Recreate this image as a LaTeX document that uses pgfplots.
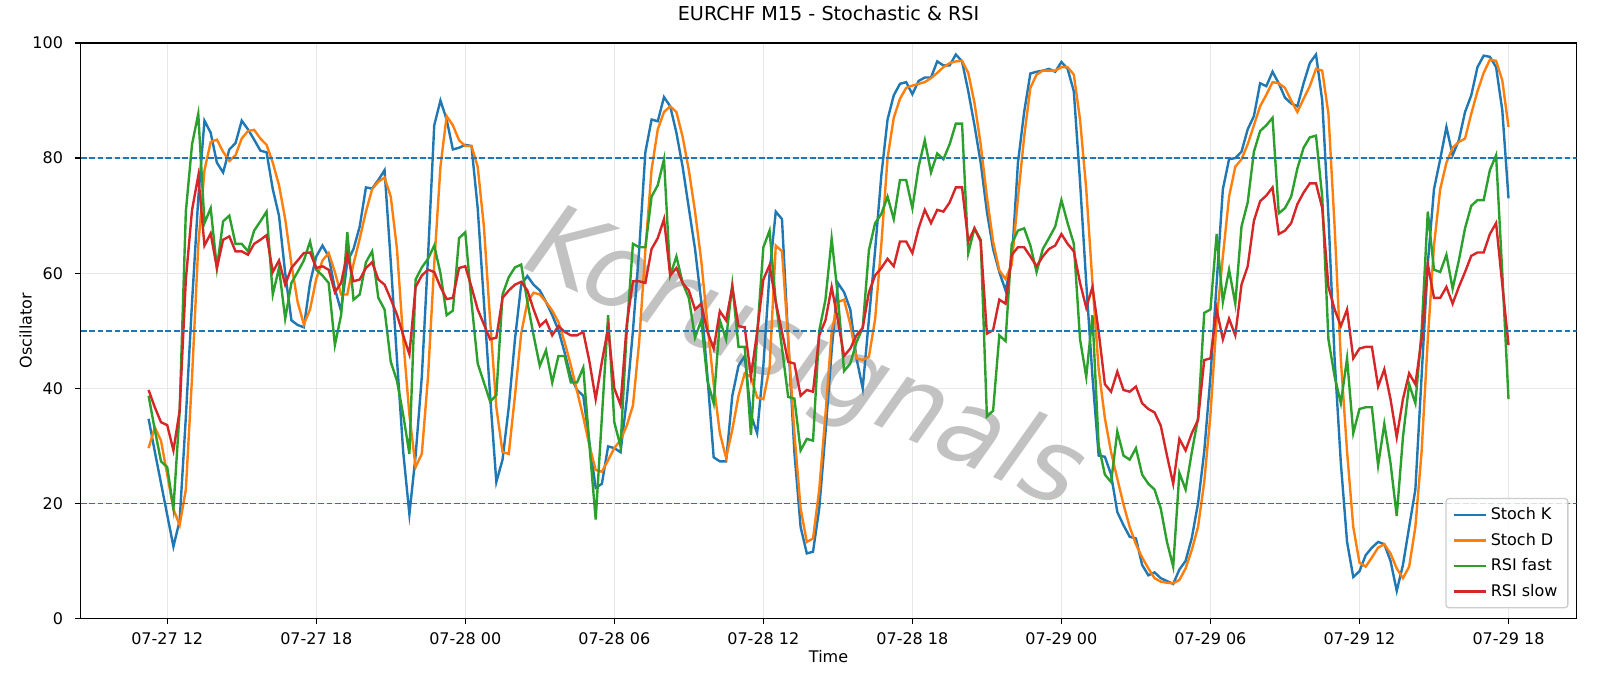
\documentclass[border=0pt]{standalone}
\usepackage{pgfplots}
\pgfplotsset{compat=1.18}
\usepackage{pgfplotstable}
\usepackage{fontspec}
\setmainfont{DejaVu Sans}
\newfontfamily\wmfont[FakeSlant=0.2]{DejaVu Sans}
\definecolor{C0}{HTML}{1F77B4}
\definecolor{C1}{HTML}{FF7F0E}
\definecolor{C2}{HTML}{2CA02C}
\definecolor{C3}{HTML}{D62728}
\definecolor{gridc}{HTML}{E8E8E8}
\definecolor{legc}{HTML}{CCCCCC}

\pgfplotstableread{
h K D F S
11.25 34.7 29.6 38.7 39.7
11.5 29 33.2 32.8 36.7
11.75 23.5 30.9 27.3 34.1
12 18 25 26.3 33.6
12.25 12.5 19 19.1 29.2
12.5 17 16.2 36 36.1
12.75 35 22.4 70.7 58.9
13 55 42 82.4 71
13.25 73 64.8 87.7 76.9
13.5 86.5 77.9 68.7 64.8
13.75 84.4 82.8 71.3 66.9
14 79.2 83.2 60.9 60.9
14.25 77.5 81.1 69 65.8
14.5 81.5 79.5 70 66.4
14.75 82.6 80.5 65.1 63.8
15 86.5 83.4 65.1 63.8
15.25 85 84.7 63.8 63.2
15.5 83.2 84.9 67.4 65.1
15.75 81.3 83.4 69 65.8
16 81 82.3 70.7 66.6
16.25 74.6 79.2 56.3 60.2
16.5 70 75.3 60.9 62.2
16.75 60 69.4 52.1 58
17 51.8 61.6 58.3 60.9
17.25 51 55 60.2 62.2
17.5 50.6 51.1 62.2 63.5
17.75 58.3 53.7 65.5 63.6
18 62.9 59 60.6 60.9
18.25 64.8 62.2 59.6 61.2
18.5 62.9 63.5 58.3 60.6
18.75 57.3 60.2 47.5 56.7
19 53.4 56.3 52.7 58.3
19.25 62 56.3 67.1 63.4
19.5 64.2 61.6 55.4 58.6
19.75 68.1 66 56.3 58.9
20 74.9 70.7 61.9 60.9
20.25 74.7 74.6 63.8 61.9
20.5 76.2 75.9 55.7 58.9
20.75 77.9 76.6 53.7 58
21 62 73.3 44.6 55.5
21.25 45 64.2 41.3 52.8
21.5 29 48.5 35.4 49.2
21.75 18.1 35.4 28.6 45.9
22 28.3 26.3 58.9 57.6
22.25 42 28.6 61 59.6
22.5 62.9 42 62.5 60.6
22.75 85.7 61.6 64.8 60.2
23 90 78.5 60 57.6
23.25 86.7 87.3 52.7 55.5
23.5 81.5 85.7 53.5 55.7
23.75 81.8 83.1 66.1 60.9
24 82.3 82.1 67.1 61.2
24.25 82.1 82.1 55 57.6
24.5 71.3 78.5 44.3 53.7
24.75 55 68.1 41 51.1
25 38.7 51.8 37.7 48.5
25.25 23.7 36.7 38.8 48.8
25.5 27.6 28.9 56.3 55.7
25.75 36.7 28.6 59.3 57
26 48.5 38.7 61 58
26.25 58 49.5 61.5 58.5
26.5 59.5 55 55 57
26.75 58 56.6 49.2 53.7
27 57 56.3 43.9 50.8
27.25 55 55 46.6 51.8
27.5 52.7 53.5 41 49.2
27.75 50.1 51.5 45.6 50.8
28 46.2 48 45.6 49.8
28.25 42 44 41 49.2
28.5 39.7 39.5 41 49.2
28.75 38.7 35 43.6 49.8
29 30.5 30 30 44.6
29.25 22.7 25.8 17.2 38.1
29.5 23.4 25.5 35 44.6
29.75 29.9 27.5 52.7 50.5
30 29.6 29.6 34.1 40
30.25 28.9 31 29.9 37.1
30.5 38 33.5 50 51.1
30.75 50 37 65.1 58.6
31 64 48 64.5 58.6
31.25 81 64 64.5 58.3
31.5 86.7 78 73.3 64.2
31.75 86.4 85 75.3 66.1
32 90.6 88 79.8 69.4
32.25 89 89 59.6 59.6
32.5 84.4 88 62.9 60.9
32.75 78.5 83.7 58.3 58.3
33 71.3 77.9 55.7 57
33.25 64.2 70.7 48.8 53.7
33.5 55 62.2 51.8 54.7
33.75 42 51.1 41.3 49.8
34 28 40.7 37.4 46.9
34.25 27.3 32.2 51.8 53.4
34.5 27.3 27.9 48.5 51.8
34.75 38.7 32.8 58 57.6
35 43.9 38.7 47.2 50.8
35.25 45.6 42.6 47.2 50.6
35.5 35.4 42 31.9 42
35.75 32.2 38.4 49.2 49.8
36 43.9 38.1 64.5 58.9
36.25 60 43.5 67.4 61.4
36.5 70.7 64.8 55 55
36.75 69.4 63.8 47 49.8
37 48.5 48.5 38.5 44.6
37.25 28.9 32.2 38.2 44.3
37.5 15.9 19.1 29.2 38.7
37.75 11.3 13.3 31.2 39.7
38 11.6 13.9 30.9 39.4
38.25 19.1 22.4 50 49.2
38.5 32.2 35.4 55.4 51.8
38.75 46.5 49.8 66 57.6
39 58.3 55 56 51.8
39.25 56.7 55.4 43 45.6
39.5 53.7 51.1 44.3 46.9
39.75 45.2 45.2 48 49.2
40 40 44.9 50.5 50.5
40.25 52 45.5 64 56.7
40.5 64 52 68.7 59.6
40.75 77 65 70.3 60.9
41 86.7 80 73.3 62.5
41.25 90.9 87 69.4 61.2
41.5 92.9 90.3 76.2 65.5
41.75 93.2 92.2 76.2 65.5
42 91.1 92.6 71.3 63.5
42.25 93.4 92.9 78.5 67.8
42.5 94 93.2 83.1 71
42.75 94 93.9 77.5 68.7
43 96.8 94.8 80.8 71
43.25 96.1 95.8 79.8 70.7
43.5 96.1 96.5 82.4 72.3
43.75 98 96.8 86 74.9
44 96.8 96.9 86 74.9
44.25 91.6 94.8 63.5 65.5
44.5 85.7 89.6 67.8 67.8
44.75 79.2 82.4 65.8 65.5
45 70.7 73.3 35.1 49.5
45.25 64.2 65.5 36.1 50.1
45.5 60.2 60.5 49.2 55.4
45.75 57 59 48.2 54.7
46 62 61.5 65.1 63.2
46.25 79.2 73 67.4 64.5
46.5 88 83.7 67.8 64.5
46.75 94.7 92.2 64.8 62.9
47 95 94.5 60.2 61.2
47.25 95.2 95.2 64.2 62.9
47.5 95.5 95.2 66.1 64.2
47.75 95 95.2 68.1 64.8
48 96.7 95.8 72.7 66.8
48.25 95.5 95.8 68.7 65.1
48.5 91.6 94.5 65.1 63.8
48.75 75.9 86.7 48.5 58.3
49 58.3 74.6 42 54
49.25 42 58.3 52.7 57.6
49.5 28.3 43.3 30 49.8
49.75 28.1 34.8 25 40.7
50 25 28.9 23.7 39.4
50.25 18.5 24.3 32.5 42.9
50.5 16.2 19.8 28.3 39.7
50.75 14.2 15.9 27.6 39.4
51 13.9 12.9 29.6 40.3
51.25 9.3 10.6 25 37.4
51.5 7.5 8.7 23.4 36.4
51.75 8 7 22.4 35.8
52 7 6.4 19.1 33.5
52.25 6.5 6.2 13.3 28.3
52.5 6 6.1 9 23.4
52.75 8.5 6.7 25.3 31.2
53 10 8.7 22.4 29.2
53.25 14 11.9 28.9 32.2
53.5 20 15.9 34.8 34.5
53.75 29 23.7 53.1 44.9
54 42 35.4 53.7 45.2
54.25 58.3 51.8 66.8 53.7
54.5 74.6 62.9 55 48.5
54.75 79.8 73.3 60.6 52.1
55 80 78.5 54.7 49.2
55.25 81.1 79.8 68.1 58
55.5 85 82.4 72.3 61.2
55.75 87.3 85.7 81.1 69.1
56 93 89 84.7 72.5
56.25 92.5 91 85.7 73.5
56.5 95 93.2 87 74.9
56.75 93 93 70.4 66.8
57 90.5 92.2 71.3 67.4
57.25 89.5 90 73.3 68.7
57.5 89 88 78.2 72
57.75 93 90.3 81.8 74
58 96.5 92.5 83.6 75.6
58.25 98 95.5 83.9 75.6
58.5 90 95.2 73.3 71.3
58.75 70 87.7 48.5 57.6
59 45 68 42 53.7
59.25 27 45 37.4 50.8
59.5 13.3 29 45.2 53.7
59.75 7.2 15.9 32.2 45.2
60 8.2 9.7 36.4 46.9
60.25 11 9 36.7 47.2
60.5 12.3 10.6 36.7 47.2
60.75 13.3 12.3 26.6 40.3
61 12.9 12.9 33.8 43.3
61.25 10 11.3 27 38.1
61.5 4.8 8.7 17.8 31.5
61.75 9.3 7 31.5 38.1
62 15.9 9 40.7 42.6
62.25 22.4 15.9 37.4 40.7
62.5 42 28.9 49.8 48.5
62.75 61.6 48.5 70.7 61.6
63 74.6 64.8 60.6 55.7
63.25 79.8 74.6 60.2 55.7
63.5 85.4 79.2 63.2 57.6
63.75 80.5 81.8 57.3 54.7
64 83.1 82.8 62.2 57.6
64.25 88 83.4 67.8 60.2
64.5 90.9 87.7 71.7 63
64.75 95.8 91.6 72.7 63.6
65 97.8 94.8 72.7 63.6
65.25 97.6 97.1 77.9 66.8
65.5 95.8 96.9 80.5 68.7
65.75 88.3 93.5 60 58
66 73 85.4 38.1 47.5
}\osc

\begin{document}
\begin{tikzpicture}
\useasboundingbox (-40.3bp,-33.8bp) rectangle (759.75bp,309.25bp);
\begin{axis}[
  at={(0,0)}, anchor=south west,
  scale only axis, width=748bp, height=287.75bp,
  xmin=8.5125, xmax=68.7375, ymin=0, ymax=100,
  axis line style={line width=0.64bp},
  xtick={12,18,24,30,36,42,48,54,60,66},
  xticklabels={07-27 12,07-27 18,07-28 00,07-28 06,07-28 12,07-28 18,07-29 00,07-29 06,07-29 12,07-29 18},
  ytick={0,20,40,60,80,100},
  tick align=outside, tickpos=left,
  major tick length=2.8bp,
  every tick/.style={black, line width=0.64bp},
  /pgf/number format/assume math mode=true,
  ticklabel style={font=\fontsize{8bp}{9.6bp}\selectfont, inner sep=0pt},
  xticklabel style={anchor=north, yshift=-4.3bp},
  yticklabel style={anchor=east, xshift=-5.8bp},
  grid=major,
  major grid style={gridc, line width=0.64bp},
  title={EURCHF M15 - Stochastic \& RSI},
  title style={at={(0.5,1.0304)}, anchor=center, font=\fontsize{9.6bp}{11.5bp}\selectfont, inner sep=0pt},
  xlabel={Time},
  xlabel style={at={(axis description cs:0.5,-0.0653)}, anchor=center, font=\fontsize{8bp}{9.6bp}\selectfont, inner sep=0pt},
  ylabel={Oscillator},
  ylabel style={at={(axis description cs:-0.0368,0.5)}, anchor=center, rotate=0, font=\fontsize{8bp}{9.6bp}\selectfont, inner sep=0pt},
  legend style={at={(1,0)}, anchor=south east, xshift=-4bp, yshift=5bp,
    draw=legc, line width=0.64bp, rounded corners=1.6bp,
    fill=white, fill opacity=0.8, text opacity=1, draw opacity=1,
    font=\fontsize{8bp}{9.6bp}\selectfont,
    inner xsep=3.2bp, inner ysep=2.4bp, row sep=1.2bp,
    cells={anchor=west}},
  legend image code/.code={\draw[#1] (0bp,0bp) -- (16bp,0bp);},
  legend cell align=left,
]
\node[rotate=-24, text=black!24, font=\wmfont\fontsize{52bp}{60bp}\selectfont] at (rel axis cs:0.48,0.45) {Korusignals};
\addplot[C0, line width=1.2bp] table[x=h, y=K] {\osc};
\addlegendentry{Stoch K}
\addplot[C1, line width=1.2bp] table[x=h, y=D] {\osc};
\addlegendentry{Stoch D}
\addplot[C2, line width=1.2bp] table[x=h, y=F] {\osc};
\addlegendentry{RSI fast}
\addplot[C3, line width=1.2bp] table[x=h, y=S] {\osc};
\addlegendentry{RSI slow}
\addplot[C0, line width=0.8bp, dash pattern=on 2.96bp off 1.28bp, forget plot] coordinates {(8.5125,80) (68.7375,80)};
\addplot[C0, line width=0.8bp, dash pattern=on 2.96bp off 1.28bp, forget plot] coordinates {(8.5125,50) (68.7375,50)};
\addplot[C0, line width=0.8bp, dash pattern=on 2.96bp off 1.28bp, forget plot] coordinates {(8.5125,20) (68.7375,20)};
\end{axis}
\end{tikzpicture}
\end{document}
